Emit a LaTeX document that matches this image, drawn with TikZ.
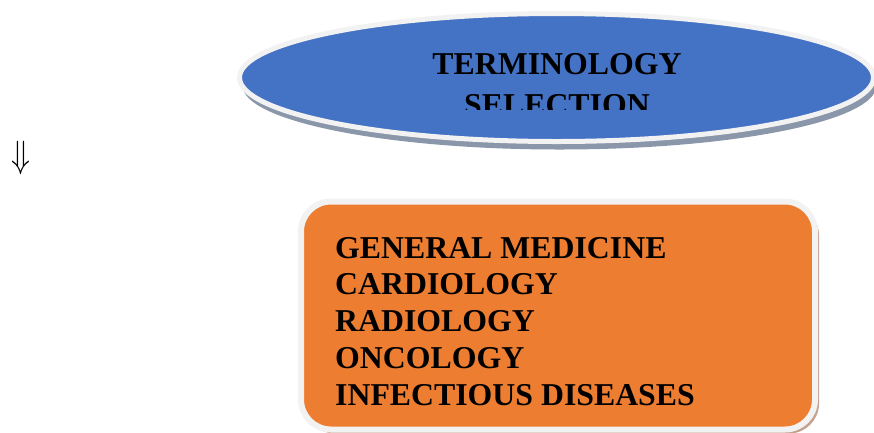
\documentclass[tikz,border=0pt]{standalone}
\usepackage{fontspec}
\setmainfont{Liberation Serif}
\usetikzlibrary{shapes.geometric, shadows}

\definecolor{termblue}{HTML}{4472C4}
\definecolor{listorange}{HTML}{ED7D31}
\definecolor{rimgray}{HTML}{F2F2F2}
\definecolor{blueshade}{HTML}{8A96AA}
\definecolor{orangeshade}{HTML}{C4A18C}

\begin{document}
\begin{tikzpicture}[x=1pt, y=-1pt,
    bubble/.style={ellipse, draw=rimgray, line width=5pt, fill=#1,
                   inner sep=0pt, outer sep=0pt},
    panel/.style={rectangle, rounded corners=30pt, draw=rimgray,
                  line width=6pt, fill=#1, inner sep=0pt, outer sep=0pt},
    label/.style={font=\fontsize{31.8}{#1}\selectfont\bfseries,
                  inner sep=0pt, text=black}
  ]
  \useasboundingbox (0,0) rectangle (874,432);

  % Heading bubble
  \node[bubble=termblue, minimum width=634pt, minimum height=128pt,
        drop shadow={shadow xshift=3pt, shadow yshift=-8pt,
                     fill=blueshade, opacity=1}]
    (topic) at (556.5,77.5) {};
  \begin{scope}
    \clip (240,20) rectangle (872,109);
    % base is the last line here
    \node[label=41, align=center, anchor=base] (topicname) at (557,115)
      {TERMINOLOGY\\SELECTION};
  \end{scope}

  % Arrow at the left
  \node[xscale=3.1, yscale=3.8, inner sep=0pt] (down) at (21,157.5)
    {$\Downarrow$};

  % List of fields
  \node[panel=listorange, minimum width=514pt, minimum height=228pt,
        drop shadow={shadow xshift=4pt, shadow yshift=-4pt,
                     fill=orangeshade, opacity=1}]
    (fields) at (558,315.5) {};
  \node[label=36.7, align=left, anchor=base west] (fieldlist) at (335,405)
    {GENERAL MEDICINE\\CARDIOLOGY\\RADIOLOGY\\ONCOLOGY\\INFECTIOUS DISEASES};

\end{tikzpicture}
\end{document}
